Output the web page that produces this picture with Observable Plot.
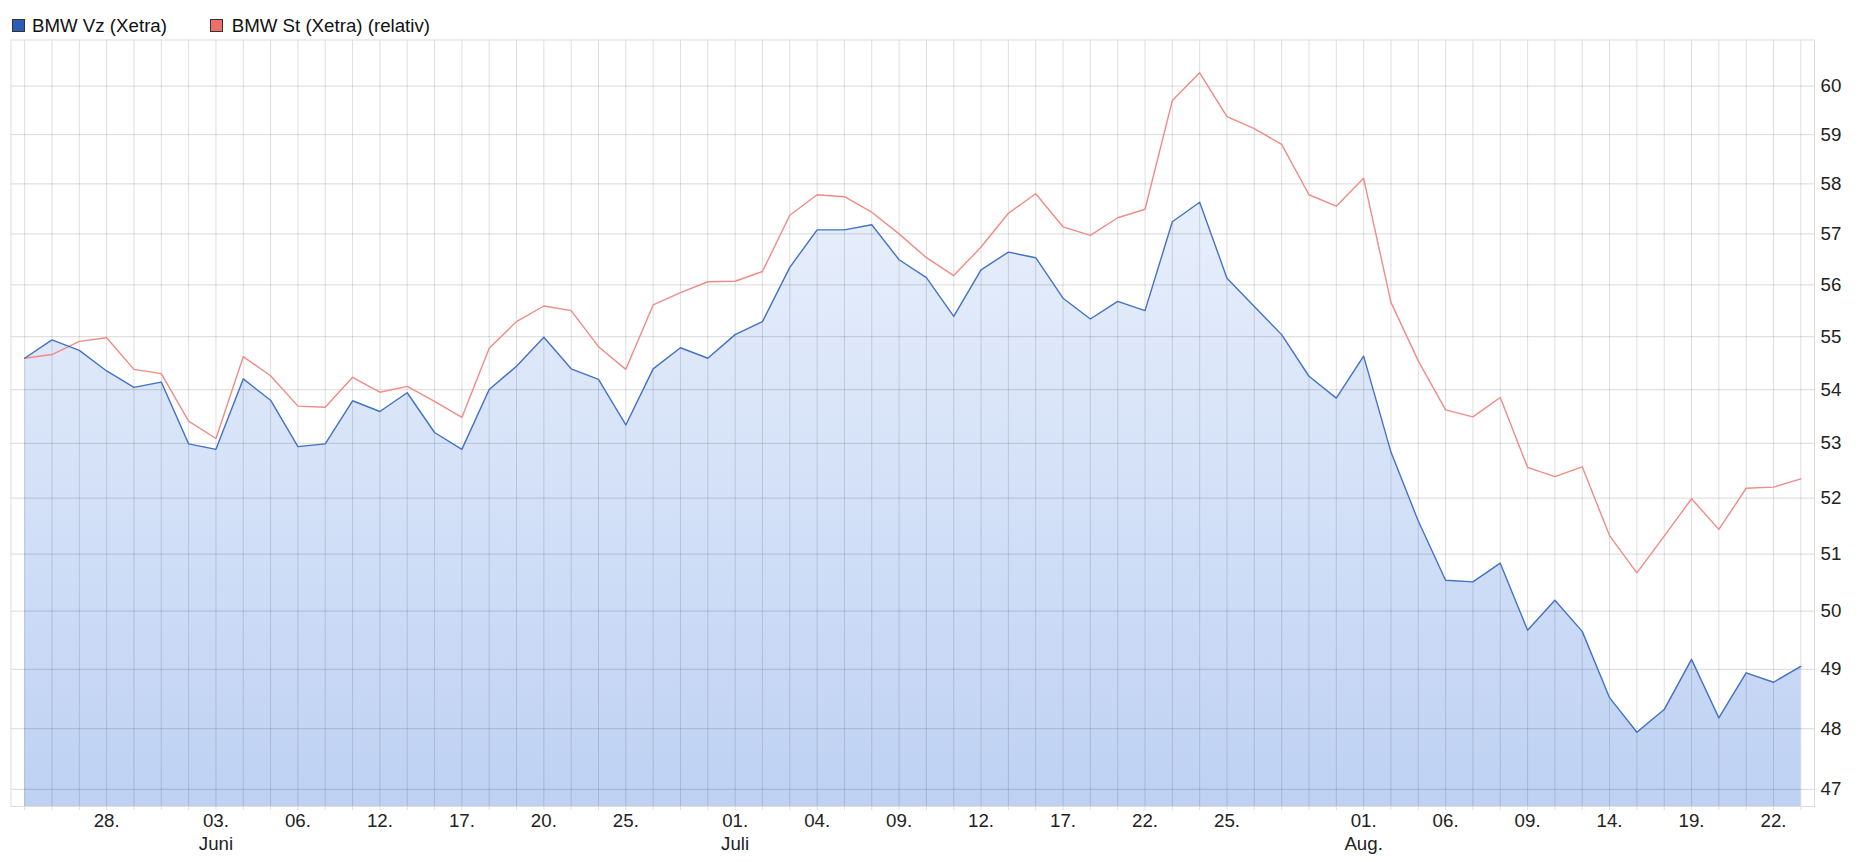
<!DOCTYPE html>
<html>
<head>
<meta charset="utf-8">
<script src="https://cdn.jsdelivr.net/npm/d3@7"></script>
<script src="https://cdn.jsdelivr.net/npm/@observablehq/plot@0.6"></script>
<style>
  html, body { margin: 0; padding: 0; background: #fff; overflow: hidden; }
  body { font-family: "Liberation Sans", Arial, sans-serif; width: 1858px; }
  #legend { position: relative; height: 36px; font-size: 18.7px; color: #111; }
  #legend .sw { position: absolute; top: 18.5px; width: 11px; height: 11px; border: 1px solid #333; }
  #legend .lab { position: absolute; top: 15px; line-height: 21px; white-space: nowrap; }
  #chart svg { display: block; }
</style>
</head>
<body>
<div id="legend"></div>
<div id="chart"></div>
<script>
// ---- data ----
const seriesNames = ["BMW Vz (Xetra)", "BMW St (Xetra) (relativ)"];
const seriesColors = ["#4472c4", "#f08b86"];
const swatchColors = ["#2c5db5", "#ee6e6a"];

const vz = [54.59, 54.94, 54.74, 54.35, 54.04, 54.14, 52.99, 52.89, 54.20, 53.80,
            52.94, 52.99, 53.79, 53.59, 53.94, 53.20, 52.89, 54.00, 54.44, 54.99,
            54.39, 54.19, 53.34, 54.39, 54.79, 54.59, 55.04, 55.29, 56.34, 57.08,
            57.08, 57.18, 56.49, 56.14, 55.39, 56.29, 56.64, 56.53, 55.74, 55.34,
            55.68, 55.50, 57.24, 57.63, 56.13, 55.58, 55.04, 54.25, 53.84, 54.63,
            52.84, 51.59, 50.54, 50.51, 50.84, 49.67, 50.19, 49.65, 48.52, 47.94,
            48.32, 49.17, 48.18, 48.94, 48.78, 49.05];

const st = [54.59, 54.66, 54.91, 54.98, 54.38, 54.30, 53.41, 53.09, 54.62, 54.26,
            53.69, 53.67, 54.23, 53.95, 54.06, 53.78, 53.48, 54.78, 55.29, 55.59,
            55.50, 54.81, 54.38, 55.61, 55.85, 56.06, 56.07, 56.26, 57.37, 57.78,
            57.74, 57.43, 57.00, 56.53, 56.18, 56.74, 57.41, 57.80, 57.14, 56.97,
            57.32, 57.49, 59.70, 60.28, 59.37, 59.12, 58.80, 57.78, 57.55, 58.11,
            55.66, 54.54, 53.62, 53.49, 53.85, 52.56, 52.39, 52.57, 51.33, 50.67,
            51.32, 51.99, 51.44, 52.18, 52.20, 52.35];

const tickIdx = [3, 7, 10, 13, 16, 19, 22, 26, 29, 32, 35, 38, 41, 44, 49, 52, 55, 58, 61, 64];
const tickLbl = ["28.", "03.", "06.", "12.", "17.", "20.", "25.", "01.", "04.", "09.",
                 "12.", "17.", "22.", "25.", "01.", "06.", "09.", "14.", "19.", "22."];
const monthIdx = [7, 26, 49];
const monthLbl = ["Juni", "Juli", "Aug."];
const yTicks = [47, 48, 49, 50, 51, 52, 53, 54, 55, 56, 57, 58, 59, 60];
const yDomain = [46.72, 60.97];

// ---- legend ----
const legend = document.getElementById("legend");
const legendPos = [[12, 32], [210, 231.7]];
seriesNames.forEach((name, k) => {
  const sw = document.createElement("div");
  sw.className = "sw";
  sw.style.left = legendPos[k][0] + "px";
  sw.style.background = swatchColors[k];
  legend.appendChild(sw);
  const lab = document.createElement("div");
  lab.className = "lab";
  lab.style.left = legendPos[k][1] + "px";
  lab.textContent = name;
  legend.appendChild(lab);
});

// ---- chart ----
const data = vz.map((v, i) => ({i, vz: v, st: st[i]}));
const idx = d3.range(vz.length);

function gradientDefs(index, scales, values, dim) {
  const ns = "http://www.w3.org/2000/svg";
  const defs = document.createElementNS(ns, "defs");
  const g = document.createElementNS(ns, "linearGradient");
  g.setAttribute("id", "vzFill");
  g.setAttribute("gradientUnits", "userSpaceOnUse");
  g.setAttribute("x1", 0); g.setAttribute("x2", 0);
  g.setAttribute("y1", dim.marginTop);
  g.setAttribute("y2", dim.height - dim.marginBottom);
  [["0", "#f3f7fe"], ["1", "#bed1f3"]].forEach(([o, c]) => {
    const s = document.createElementNS(ns, "stop");
    s.setAttribute("offset", o);
    s.setAttribute("stop-color", c);
    g.appendChild(s);
  });
  defs.appendChild(g);
  return defs;
}

const chart = Plot.plot({
  width: 1858,
  height: 826,
  marginLeft: 10.5,
  marginRight: 44,
  marginTop: 3.5,
  marginBottom: 56,
  style: {fontFamily: "'Liberation Sans', Arial, sans-serif", fontSize: "18.7px", color: "#222", background: "#fff", maxWidth: "none"},
  x: {domain: [-0.5, vz.length - 0.5], axis: null, label: null},
  y: {type: "log", domain: yDomain, axis: null, label: null},
  marks: [
    gradientDefs,
    Plot.areaY(data, {x: "i", y1: yDomain[0], y2: "vz", fill: "url(#vzFill)"}),
    // vertical grid at every trading day, with short ticks below the frame
    Plot.ruleX(idx, {stroke: "#000", strokeOpacity: 0.13, strokeWidth: 1, insetBottom: -4}),
    Plot.ruleY(yTicks, {stroke: "#000", strokeOpacity: 0.12, strokeWidth: 1.3}),
    Plot.frame({stroke: "#dcdcdc"}),
    Plot.lineY(data, {x: "i", y: "st", stroke: seriesColors[1], strokeWidth: 1.4}),
    Plot.lineY(data, {x: "i", y: "vz", stroke: seriesColors[0], strokeWidth: 1.4}),
    // y tick labels on the right, outside the frame
    Plot.text(yTicks, {y: d => d, frameAnchor: "right", textAnchor: "start", dx: 6, lineAnchor: "middle", text: d => String(d), fill: "#222"}),
    // day tick labels
    Plot.text(tickIdx, {x: d => d, frameAnchor: "bottom", lineAnchor: "top", dy: 7, text: d => tickLbl[tickIdx.indexOf(d)], fill: "#222"}),
    // month labels (second line)
    Plot.text(monthIdx, {x: d => d, frameAnchor: "bottom", lineAnchor: "top", dy: 30, text: d => monthLbl[monthIdx.indexOf(d)], fill: "#222"})
  ]
});
document.getElementById("chart").appendChild(chart);
</script>
</body>
</html>
